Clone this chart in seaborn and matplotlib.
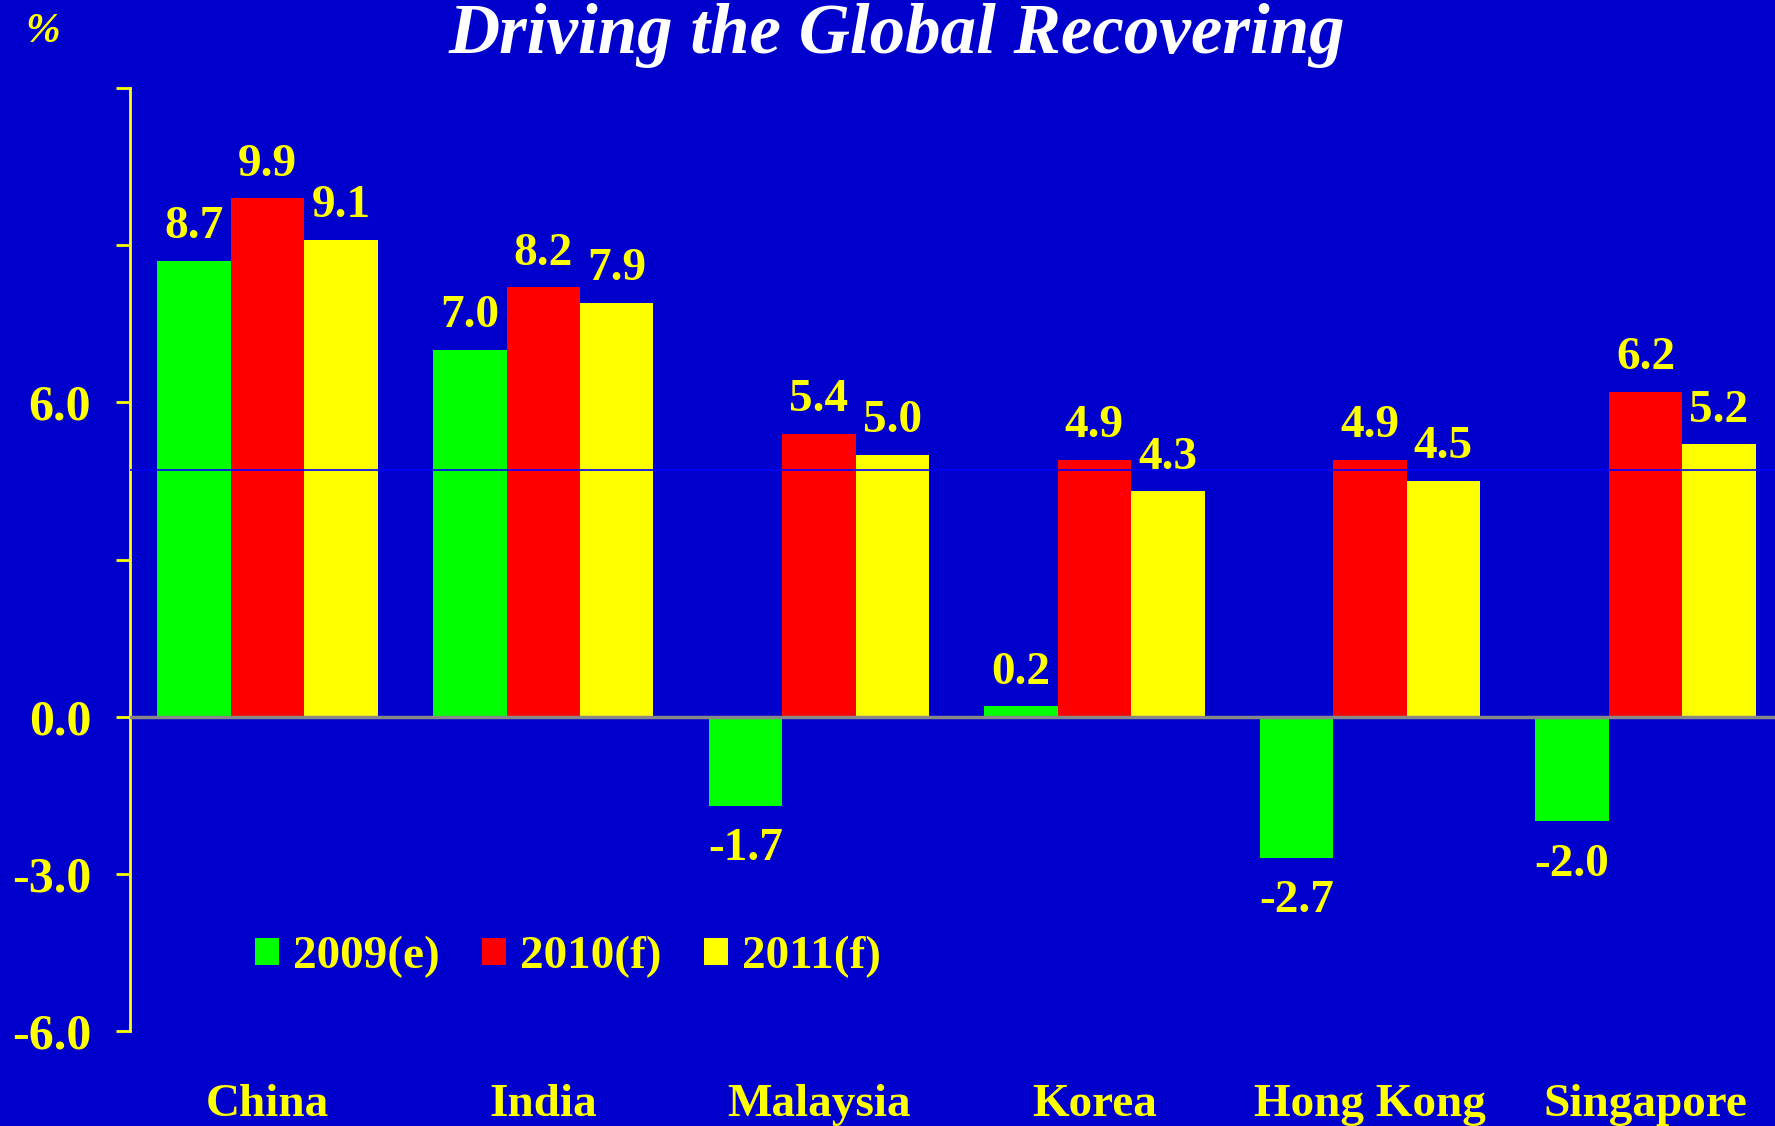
import matplotlib
matplotlib.use("Agg")
import matplotlib.pyplot as plt
import pandas as pd
import seaborn as sns

# Data
countries = ["China", "India", "Malaysia", "Korea", "Hong Kong", "Singapore"]
years = ["2009(e)", "2010(f)", "2011(f)"]
growth_2009 = [8.7, 7.0, -1.7, 0.2, -2.7, -2.0]
growth_2010 = [9.9, 8.2, 5.4, 4.9, 4.9, 6.2]
growth_2011 = [9.1, 7.9, 5.0, 4.3, 4.5, 5.2]
y_ticks = [-6, -3, 0, 3, 6, 9, 12]
y_tick_labels = ["-6.0", "-3.0", "0.0", "", "6.0", "", ""]

# Colors
BG = "#0000CC"
TEXT = "#FFFF00"
PALETTE = ["#00FF00", "#FF0000", "#FFFF00"]

df = pd.DataFrame({
    "country": countries * 3,
    "year": [years[0]] * 6 + [years[1]] * 6 + [years[2]] * 6,
    "value": growth_2009 + growth_2010 + growth_2011,
})

sns.set_style("white")
plt.rcParams["font.family"] = ["Liberation Serif", "DejaVu Serif"]
plt.rcParams["font.weight"] = "bold"

fig = plt.figure(figsize=(17.75, 11.26), dpi=100, facecolor=BG)
ax = fig.add_axes([0.0732, 0.0844, 1 - 0.0732, 0.9218 - 0.0844])
ax.set_facecolor(BG)

sns.barplot(data=df, x="country", y="value", hue="year", palette=PALETTE,
            width=0.8, saturation=1, linewidth=0, ax=ax, errorbar=None)

# value labels: above positive bars, below negative ones
for cont in ax.containers:
    vals = cont.datavalues
    pos = [f"{v:.1f}" if v >= 0 else "" for v in vals]
    neg = [f"{v:.1f}" if v < 0 else "" for v in vals]
    ax.bar_label(cont, labels=pos, padding=9, color=TEXT, fontsize=34,
                 fontweight="bold")
    ax.bar_label(cont, labels=neg, padding=16, color=TEXT, fontsize=34,
                 fontweight="bold")

ax.set_ylim(-6, 12)
ax.set_xlim(-0.5, 5.47)
ax.set_yticks(y_ticks)
ax.set_yticklabels(y_tick_labels)
ax.set_xlabel("")
ax.set_ylabel("")

for side in ["top", "right", "bottom"]:
    ax.spines[side].set_visible(False)
ax.spines["left"].set_color(TEXT)
ax.spines["left"].set_linewidth(2)

ax.axhline(0, color="#888888", lw=2.5, zorder=4)
ax.axhline(4.7, color="#0000FF", lw=1.2, zorder=5)

ax.tick_params(axis="y", colors=TEXT, labelsize=36, length=10, width=2,
               pad=18, direction="out", left=True)
ax.tick_params(axis="x", colors=TEXT, labelsize=34, length=0, pad=38)
for lbl in ax.get_xticklabels() + ax.get_yticklabels():
    lbl.set_fontweight("bold")

leg = ax.legend(loc="center", bbox_to_anchor=(0.32, 0.15),
                bbox_transform=fig.transFigure, ncol=3, frameon=False,
                fontsize=34, handlelength=0.5, handleheight=0.5,
                handletextpad=0.3, columnspacing=0.9)
for t in leg.get_texts():
    t.set_color(TEXT)
    t.set_fontweight("bold")

fig.text(0.505, 0.953, "Driving the Global Recovering", color="white",
         fontsize=51, fontweight="bold", fontstyle="italic",
         ha="center", va="baseline")
fig.text(0.024, 0.972, "%", color=TEXT, fontsize=30, fontweight="bold",
         fontstyle="italic", ha="center", va="center")

fig.savefig("out.png", dpi=100, facecolor=BG)
